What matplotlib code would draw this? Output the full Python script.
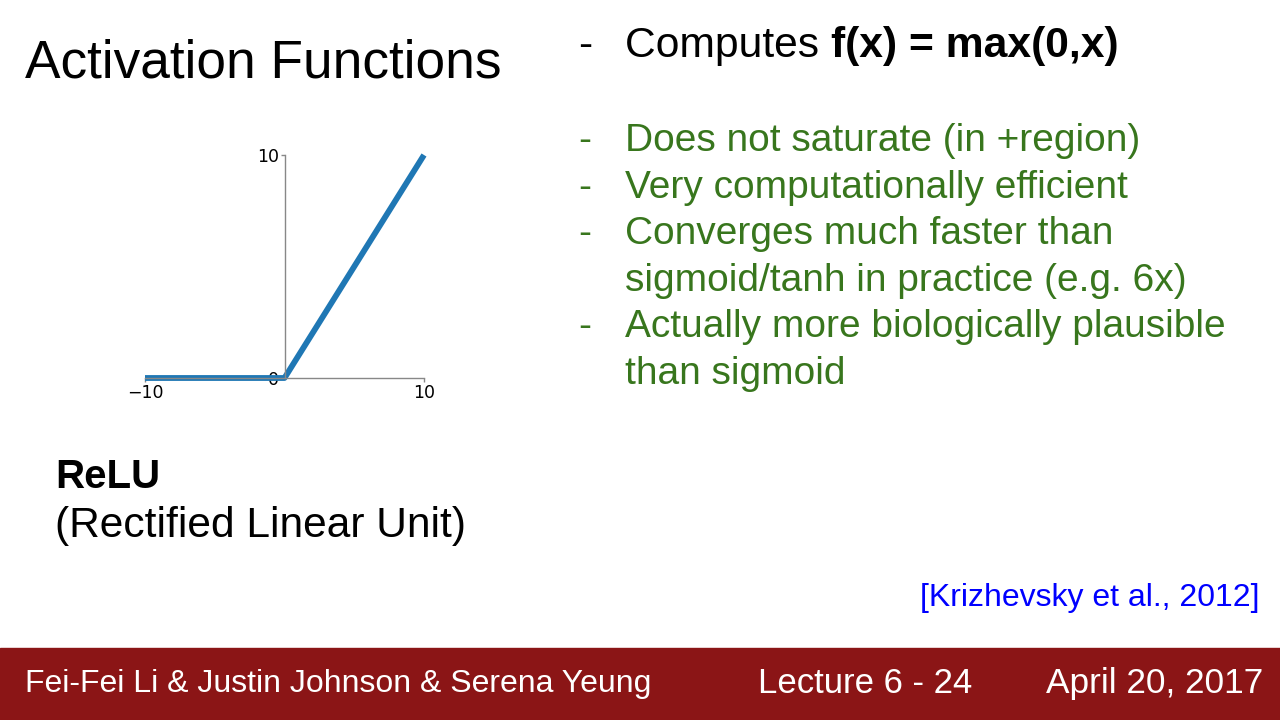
import matplotlib.pyplot as plt
from matplotlib.patches import Rectangle

# relu curve
x_vals = [-10, 0, 10]
y_vals = [0, 0, 10]
x_ticks = [-10, 10]
y_ticks = [0, 10]

title = "Activation Functions"
first_point = ("Computes ", "f(x) = max(0,x)")
green_lines = ["Does not saturate (in +region)",
               "Very computationally efficient",
               "Converges much faster than",
               "sigmoid/tanh in practice (e.g. 6x)",
               "Actually more biologically plausible",
               "than sigmoid"]
has_dash = [True, True, True, False, True, False]
footer = ["Fei-Fei Li & Justin Johnson & Serena Yeung", "Lecture 6 - 24", "April 20, 2017"]

plt.rcParams['font.family'] = ['Liberation Sans', 'DejaVu Sans']
fig = plt.figure(figsize=(12.8, 7.2), dpi=100)
W, H = 1280, 720

def px(x, y):
    # pixel coords (from top left) -> figure fraction
    return x / W, 1 - y / H

green = '#38761d'

fig.text(*px(25, 77), title, fontsize=38.3, va='baseline', ha='left')

# first bullet
fig.text(*px(578, 57), "-", fontsize=30.7, va='baseline')
t = fig.text(*px(625, 57), first_point[0], fontsize=30.7, va='baseline')
fig.canvas.draw()
bb = t.get_window_extent()
fig.text(bb.x1 / W, 1 - 57 / H, first_point[1], fontsize=30.7, fontweight='bold', va='baseline')

# green bullets
y0 = 151
step = 46.6
for i, line in enumerate(green_lines):
    yy = y0 + i * step
    if has_dash[i]:
        fig.text(*px(578, yy), "-", fontsize=28, color=green, va='baseline')
    fig.text(*px(625, yy), line, fontsize=28, color=green, va='baseline')

fig.text(*px(55, 488), "ReLU", fontsize=29, fontweight='bold', va='baseline')
fig.text(*px(55, 537), "(Rectified Linear Unit)", fontsize=30.6, va='baseline')

fig.text(*px(1260, 606), "[Krizhevsky et al., 2012]", fontsize=23, color='#0000ff',
         va='baseline', ha='right')

# footer band
fig.patches.append(Rectangle((0, 0), 1, 72 / H, transform=fig.transFigure,
                             color='#8b1516', zorder=0))
fig.text(*px(25, 692), footer[0], fontsize=23, color='white', va='baseline')
fig.text(*px(758, 693), footer[1], fontsize=25, color='white', va='baseline')
fig.text(*px(1263, 693), footer[2], fontsize=25.4, color='white', va='baseline',
         ha='right')

# the relu plot
ax = fig.add_axes([145 / W, 1 - 378 / H, 279 / W, 223 / H])
ax.plot(x_vals, y_vals, color='#1f77b4', linewidth=4.2, clip_on=False,
        solid_capstyle='butt')
ax.set_xlim(-10, 10)
ax.set_ylim(0, 10)
ax.spines['left'].set_position(('data', 0))
ax.spines['top'].set_visible(False)
ax.spines['right'].set_visible(False)
for s in ['left', 'bottom']:
    ax.spines[s].set_color('#888888')
    ax.spines[s].set_linewidth(1)
ax.set_xticks(x_ticks)
ax.set_yticks(y_ticks)
ax.tick_params(colors='#888888', labelcolor='black', labelsize=12.5, length=3, width=1, pad=1)
for lab in ax.get_xticklabels() + ax.get_yticklabels():
    lab.set_family('DejaVu Sans')
ax.patch.set_visible(False)

fig.savefig('out.png', dpi=100)
